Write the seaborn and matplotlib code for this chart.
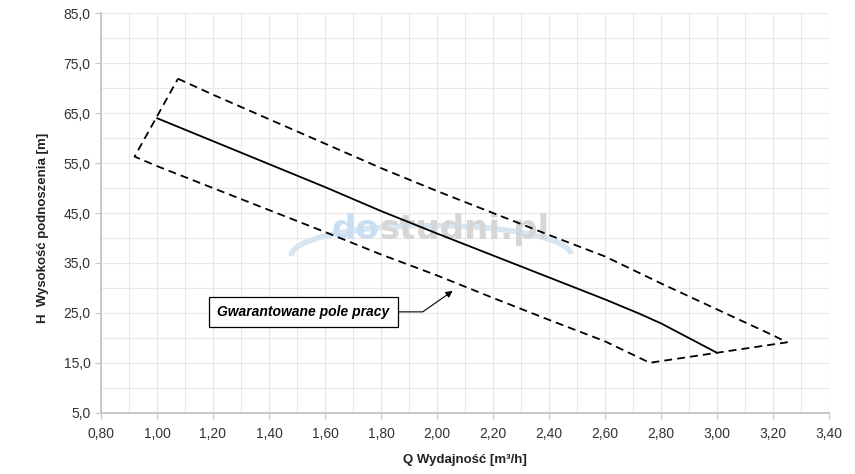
import pandas as pd
import seaborn as sns
import matplotlib.pyplot as plt
from matplotlib.ticker import MultipleLocator, FuncFormatter
from matplotlib.patches import Arc

# pump curve (solid)
q_pump = [1.00, 1.20, 1.40, 1.60, 1.80, 2.00, 2.20, 2.40, 2.60, 2.72, 2.80, 3.00]
h_pump = [64.0, 59.4, 54.8, 50.2, 45.4, 40.9, 36.5, 32.1, 27.7, 24.9, 22.9, 17.0]

# guaranteed working field - upper edge
q_upper = [1.075, 1.20, 1.40, 1.60, 1.80, 2.00, 2.20, 2.40, 2.60, 2.80, 3.00, 3.20, 3.25]
h_upper = [71.9, 68.7, 63.8, 58.9, 54.0, 49.4, 45.0, 40.6, 36.3, 30.9, 25.7, 20.5, 19.1]

# lower edge
q_lower = [0.92, 1.00, 1.20, 1.40, 1.60, 1.80, 2.00, 2.20, 2.40, 2.60, 2.76]
h_lower = [56.3, 54.4, 50.0, 45.6, 41.2, 36.7, 32.5, 28.0, 23.6, 19.3, 15.0]

y_ticks = [5, 15, 25, 35, 45, 55, 65, 75, 85]

pump_df = pd.DataFrame({"Q": q_pump, "H": h_pump})
# closed outline: upper edge, then lower edge backwards, back to start
field_df = pd.DataFrame({
    "Q": q_upper + q_lower[::-1] + q_upper[:1],
    "H": h_upper + h_lower[::-1] + h_upper[:1],
})

sns.set_style("white")
plt.rcParams['font.family'] = ['Liberation Sans', 'DejaVu Sans']

fig = plt.figure(figsize=(8.55, 4.74), dpi=100)
ax = fig.add_axes([0.1181, 0.1293, 0.8515, 0.8426])

# watermark
ax.add_patch(Arc((1.98, 36.5), 1.0, 12, theta1=25, theta2=195, color="#d6e7f3", lw=4, zorder=1))
wm = ax.text(1.625, 38.4, "do", family="DejaVu Sans", fontsize=24.5, fontweight="bold",
             color="#c9def0", va="bottom", ha="left", zorder=1)
ax.annotate("studni.pl", xy=(1, 0), xycoords=wm, family="DejaVu Sans", fontsize=24.5,
            fontweight="bold", color="#d6d6d6", va="bottom", ha="left", zorder=1)

sns.lineplot(data=field_df, x="Q", y="H", sort=False, estimator=None, color="black", lw=1.3,
             linestyle=(0, (4.4, 2.8)), ax=ax)
sns.lineplot(data=pump_df, x="Q", y="H", sort=False, estimator=None, color="black", lw=1.3, ax=ax)

ax.set_xlim(0.8, 3.4)
ax.set_ylim(5, 85)
ax.xaxis.set_major_locator(MultipleLocator(0.2))
ax.xaxis.set_minor_locator(MultipleLocator(0.1))
ax.set_yticks(y_ticks)
ax.yaxis.set_minor_locator(MultipleLocator(5))
ax.xaxis.set_major_formatter(FuncFormatter(lambda v, p: f"{v:.2f}".replace(".", ",")))
ax.yaxis.set_major_formatter(FuncFormatter(lambda v, p: f"{v:.1f}".replace(".", ",")))

ax.grid(True, which="both", color="#e8e8e8", lw=0.8)
ax.set_axisbelow(True)
for s in ["top", "right"]:
    ax.spines[s].set_visible(False)
for s in ["left", "bottom"]:
    ax.spines[s].set_color("#c8c8c8")
    ax.spines[s].set_linewidth(1.4)
ax.tick_params(axis="both", which="major", length=4, color="#c8c8c8",
               labelsize=10, labelcolor="#333333", left=True, bottom=True)
ax.tick_params(axis="x", which="major", pad=6)
ax.tick_params(axis="both", which="minor", length=0)

ax.set_xlabel("Q Wydajność [m³/h]", fontsize=9.5, fontweight="bold", color="#222222", labelpad=10)
ax.set_ylabel("H  Wysokość podnoszenia [m]", fontsize=9.5, fontweight="bold", color="#222222")
ax.yaxis.set_label_coords(-0.072, 0.462)

# annotation
ax.annotate("Gwarantowane pole pracy", xy=(2.056, 29.4), xytext=(1.215, 25.2),
            fontsize=10, fontweight="bold", style="italic", color="black", va="center",
            bbox=dict(boxstyle="square,pad=0.6", fc="white", ec="black", lw=0.9),
            arrowprops=dict(arrowstyle="-|>", color="black", lw=0.8,
                            connectionstyle="angle,angleA=0,angleB=35,rad=0",
                            shrinkA=0, shrinkB=0, mutation_scale=10))

fig.savefig("out.png", dpi=100)
